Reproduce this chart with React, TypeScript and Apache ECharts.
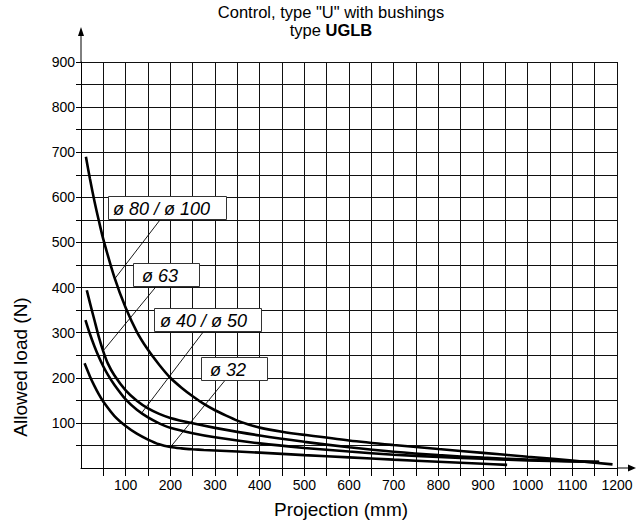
import React, { useEffect, useRef } from "react";
import * as echarts from "echarts";

// ---- data ----
const seriesNames = ["ø 80 / ø 100", "ø 63", "ø 40 / ø 50", "ø 32"];

const projA = [11, 20, 30, 40, 50, 75, 100, 125, 150, 175, 200, 225, 250, 275, 300, 325, 350, 375, 400, 450, 500, 600, 700, 800, 900, 1000, 1100, 1190];
const loadA = [690, 641, 592, 548, 507, 422, 355, 302, 262, 229, 200, 178, 159, 142, 128, 116, 105, 96.5, 89.5, 80.5, 73.5, 61, 51, 42, 33.5, 25, 16.5, 8];

const projB = [13, 20, 30, 40, 50, 60, 75, 100, 125, 150, 175, 200, 250, 300, 400, 500, 600, 700, 800, 900, 1000, 1100, 1160];
const loadB = [394, 366, 328, 290, 258, 232, 205, 172, 149, 132, 120, 111, 99, 89, 72, 58, 46, 36, 28.5, 23, 18.5, 15, 13.5];

const projC = [10, 20, 30, 40, 50, 60, 75, 100, 125, 150, 175, 200, 250, 300, 400, 500, 600, 700, 800, 900, 1000, 1100, 1160];
const loadC = [328, 297, 270, 246, 225, 207, 184, 152, 129, 112, 99, 89, 77, 68, 54.5, 44.5, 36.5, 29.5, 24.5, 20.5, 17, 14.5, 13];

const projD = [8, 20, 30, 40, 50, 75, 100, 125, 150, 175, 200, 225, 250, 275, 300, 400, 500, 600, 700, 800, 900, 954];
const loadD = [232, 203, 182, 163, 147, 115, 93, 76, 63, 52.5, 46.5, 43.5, 41.5, 40, 38.8, 34, 28.5, 23.5, 18.5, 14, 9.5, 7];

// leader-line anchor on each curve (data units) and leader start near label box (data units)
const leaderEndX = [76, 49, 135, 200];
const leaderEndY = [420, 259, 121, 46];
const leaderStartX = [177, 168, 274, 323];
const leaderStartY = [550, 402, 302, 195];

// ---- layout (pixels) ----
const FONT = '"Liberation Sans", Arial, Helvetica, sans-serif';
const boxes = [
  { x: 108, y: 196, w: 118, h: 23, tx: 113 },
  { x: 133, y: 263, w: 66, h: 23, tx: 142 },
  { x: 154, y: 308, w: 107, h: 23, tx: 160 },
  { x: 201, y: 357, w: 66, h: 23, tx: 210 },
];

function zip(xs: number[], ys: number[]) {
  return xs.map((x, i) => [x, ys[i]]);
}

export default function App() {
  const ref = useRef<HTMLDivElement>(null);
  useEffect(() => {
    document.body.style.margin = "0";
    const chart = echarts.init(ref.current!, null, { renderer: "svg" });
    const labelFmt = (v: number) => (v > 0 && v % 100 === 0 ? String(v) : "");
    const lineColor = "#000";
    const datasets = [zip(projA, loadA), zip(projB, loadB), zip(projC, loadC), zip(projD, loadD)];
    chart.setOption({
      animation: false,
      backgroundColor: "#fff",
      grid: { left: 81, right: 20, top: 62, bottom: 52 },
      xAxis: {
        type: "value",
        min: 0,
        max: 1200,
        interval: 50,
        axisLine: { show: true, onZero: false, lineStyle: { color: lineColor, width: 1 } },
        axisTick: { show: true, length: 8, lineStyle: { color: lineColor, width: 1 } },
        axisLabel: { formatter: labelFmt, fontSize: 14, color: "#000", margin: 10, fontFamily: FONT, showMinLabel: false },
        splitLine: { show: true, lineStyle: { color: "#111", width: 1 } },
      },
      yAxis: {
        type: "value",
        min: 0,
        max: 900,
        interval: 50,
        axisLine: { show: true, onZero: false, lineStyle: { color: lineColor, width: 1 } },
        axisTick: { show: true, length: 5, lineStyle: { color: lineColor, width: 1 } },
        axisLabel: { formatter: labelFmt, fontSize: 14, color: "#000", margin: 6, fontFamily: FONT, showMinLabel: false },
        splitLine: { show: true, lineStyle: { color: "#111", width: 1 } },
      },
      series: datasets.map((d, i) => ({
        name: seriesNames[i],
        type: "line",
        data: d,
        smooth: 0.3,
        showSymbol: false,
        symbol: "none",
        lineStyle: { color: "#000", width: 2.6 },
        z: 5,
      })),
    });

    const p = (x: number, y: number) => chart.convertToPixel({ gridIndex: 0 }, [x, y]) as number[];
    const origin = p(0, 0);
    const topY = p(0, 900);
    const rightX = p(1200, 0);
    const graphics: any[] = [];
    // title
    graphics.push({
      type: "text",
      x: 331,
      y: 12,
      style: { text: 'Control, type "U" with bushings', font: `16.5px ${FONT}`, fill: "#000", align: "center", verticalAlign: "middle" },
    });
    graphics.push({
      type: "text",
      x: 331,
      y: 30,
      style: {
        text: "{n|type }{b|UGLB}",
        align: "center",
        verticalAlign: "middle",
        rich: {
          n: { fontSize: 16.5, fontFamily: FONT, fill: "#000" },
          b: { fontSize: 16.5, fontFamily: FONT, fontWeight: "bold", fill: "#000" },
        },
      },
    });
    // axis names
    graphics.push({
      type: "text",
      x: 341,
      y: 509,
      style: { text: "Projection (mm)", font: `19px ${FONT}`, fill: "#000", align: "center", verticalAlign: "middle" },
    });
    graphics.push({
      type: "text",
      x: 20,
      y: 367,
      rotation: Math.PI / 2,
      style: { text: "Allowed load (N)", font: `19px ${FONT}`, fill: "#000", align: "center", verticalAlign: "middle" },
    });
    // axis arrows
    graphics.push({ type: "line", shape: { x1: origin[0], y1: topY[1], x2: origin[0], y2: 33 }, style: { stroke: "#000", lineWidth: 1 } });
    graphics.push({ type: "polygon", shape: { points: [[origin[0], 27], [origin[0] - 3, 36], [origin[0] + 3, 36]] }, style: { fill: "#000" } });
    graphics.push({ type: "line", shape: { x1: rightX[0], y1: origin[1], x2: 630, y2: origin[1] }, style: { stroke: "#000", lineWidth: 1 } });
    graphics.push({ type: "polygon", shape: { points: [[636, origin[1]], [628, origin[1] - 3.5], [628, origin[1] + 3.5]] }, style: { fill: "#000" } });
    // annotations
    boxes.forEach((b, i) => {
      const s = p(leaderStartX[i], leaderStartY[i]);
      const e = p(leaderEndX[i], leaderEndY[i]);
      graphics.push({ type: "line", z: 10, shape: { x1: s[0], y1: s[1], x2: e[0], y2: e[1] }, style: { stroke: "#000", lineWidth: 0.9 } });
      graphics.push({ type: "rect", z: 11, shape: { x: b.x + 0.5, y: b.y + 0.5, width: b.w, height: b.h }, style: { fill: "#fff", stroke: "#333", lineWidth: 1 } });
      graphics.push({
        type: "text",
        z: 12,
        x: b.tx,
        y: b.y + b.h / 2 + 1,
        style: { text: seriesNames[i], font: `italic 18px ${FONT}`, fill: "#000", align: "left", verticalAlign: "middle" },
      });
    });
    chart.setOption({ graphic: graphics });
    return () => chart.dispose();
  }, []);
  return <div ref={ref} style={{ position: "absolute", left: 0, top: 0, width: 637, height: 520 }} />;
}
